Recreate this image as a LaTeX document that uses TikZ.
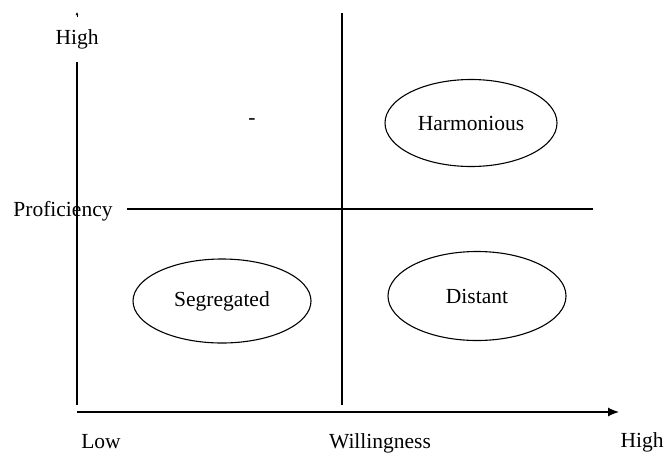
\documentclass[tikz,border=0pt]{standalone}
\usepackage{fontspec}
\setmainfont{Liberation Serif}
\usetikzlibrary{arrows.meta,shapes.geometric}
\begin{document}
\begin{tikzpicture}[x=1pt,y=-1pt,
  lbl/.style={font=\fontsize{21.5}{25}\selectfont, inner sep=0pt},
  quad/.style={draw, line width=1.1pt, ellipse, inner sep=0pt},
  axis/.style={line width=1.2pt},
  guide/.style={line width=1.1pt}]
\useasboundingbox (0,0) rectangle (668,455);
% axes
\coordinate (yb) at (77,405);
\coordinate (yt) at (77,62);
\coordinate (ytipa) at (77,17);
\coordinate (ytipb) at (77,12);
\coordinate (xa) at (77,412);
\coordinate (xb) at (619,412);
\draw[guide] (yb) -- (yt);
\draw[-{Latex[length=3pt,width=3pt]}, line width=0.6pt] (ytipa) -- (ytipb);
\draw[axis, -{Latex[length=11pt,width=9pt]}] (xa) -- (xb);
% quadrant lines
\coordinate (vt) at (342,13);
\coordinate (vb) at (342,405);
\coordinate (hl) at (127,209);
\coordinate (hr) at (593,209);
\draw[guide] (vt) -- (vb);
\draw[guide] (hl) -- (hr);
% labels
\node[lbl] (high1) at (77,39) {High};
\node[lbl] (prof) at (63,211) {Proficiency};
\node[lbl] (low) at (101,442) {Low};
\node[lbl] (will) at (380,443) {Willingness};
\node[lbl] (high2) at (642,442) {High};
\node[lbl] (dash) at (252,122) {-};
% ellipses
\node[quad, minimum width=172pt, minimum height=87pt] (harm) at (471,123) {};
\node[lbl] at (harm.center) {Harmonious};
\node[quad, minimum width=178pt, minimum height=84pt] (seg) at (222,301) {};
\node[lbl] at (seg.center) {Segregated};
\node[quad, minimum width=178pt, minimum height=89pt] (dist) at (477,296) {};
\node[lbl] at (dist.center) {Distant};
\end{tikzpicture}
\end{document}
